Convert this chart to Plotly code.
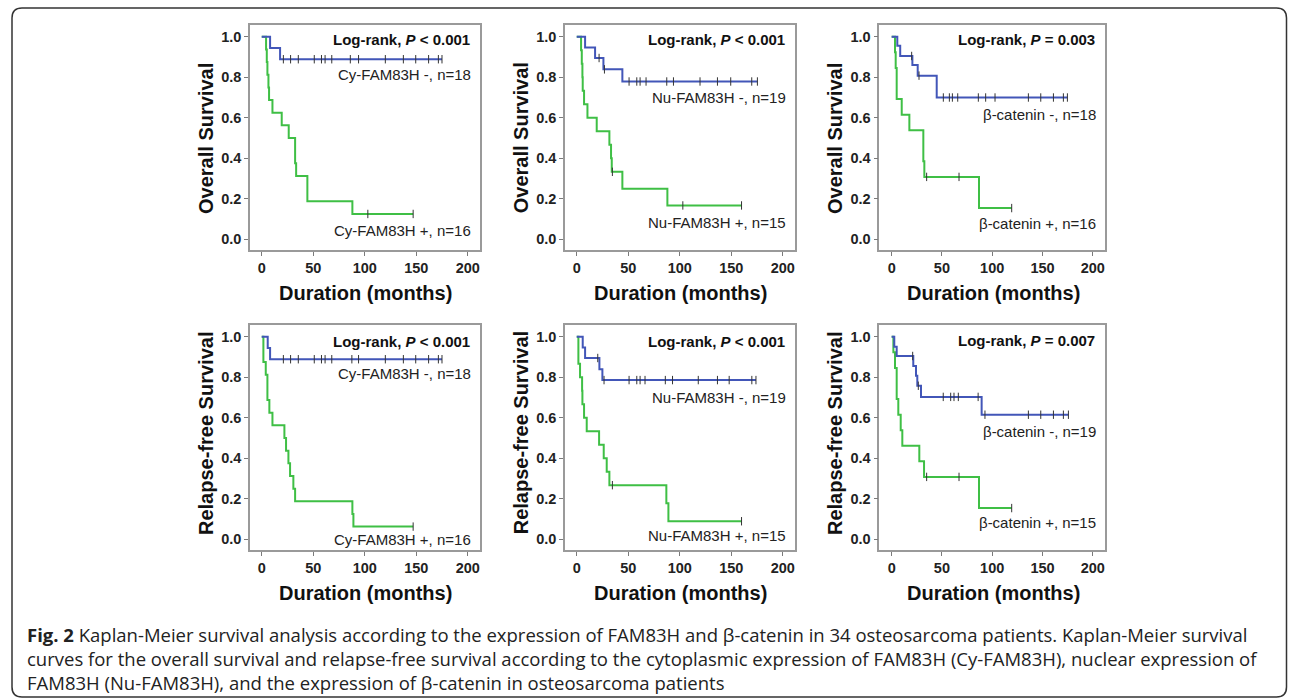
import plotly.graph_objects as go

W, H = 1290, 700

# ---------------- data ----------------
# Overall survival, Cy-FAM83H
os_cy_neg_t = [0, 8.1, 17.8]
os_cy_neg_s = [1.0, 0.944, 0.889]
os_cy_neg_c = [21, 28, 35.5, 51, 58, 61.5, 68, 86, 94, 120, 137.5, 149.5, 162, 171.5, 175]
os_cy_pos_t = [0, 4.2, 4.9, 5.5, 6.5, 7.1, 10.4, 19.4, 26.2, 32.4, 33.4, 44.3, 88]
os_cy_pos_s = [1.0, 0.9375, 0.875, 0.8125, 0.75, 0.6875, 0.625, 0.5625, 0.5, 0.375, 0.3125, 0.1875, 0.125]
os_cy_pos_c = [103, 147]

# Overall survival, Nu-FAM83H
os_nu_neg_t = [0, 8.1, 17.8, 25.9, 44.3]
os_nu_neg_s = [1.0, 0.947, 0.895, 0.839, 0.779]
os_nu_neg_c = [21.7, 26.9, 50.8, 58.3, 61.5, 67.3, 87.4, 93.9, 119.7, 136.6, 149.5, 169.9, 175.4]
os_nu_pos_t = [0, 4.2, 4.9, 5.5, 5.8, 7.1, 10.4, 19.4, 31.7, 33.3, 34.0, 44.3, 88]
os_nu_pos_s = [1.0, 0.933, 0.867, 0.8, 0.733, 0.667, 0.6, 0.533, 0.467, 0.4, 0.333, 0.25, 0.167]
os_nu_pos_c = [34.6, 103, 160]

# Overall survival, beta-catenin
os_bc_neg_t = [0, 5.6, 8.5, 20.6, 25.9, 44.8]
os_bc_neg_s = [1.0, 0.955, 0.905, 0.86, 0.808, 0.70]
os_bc_neg_c = [19.9, 27.2, 51.4, 57.4, 60.4, 65.7, 86.2, 93.5, 102.8, 136, 148.3, 160.9, 170.8, 174.8]
os_bc_pos_t = [0, 3.3, 4.0, 5.0, 10.0, 17.6, 31.5, 32.5, 86.9]
os_bc_pos_s = [1.0, 0.923, 0.846, 0.692, 0.615, 0.538, 0.385, 0.308, 0.154]
os_bc_pos_c = [34.8, 67, 119.4]

# Relapse-free survival, Cy-FAM83H
rfs_cy_neg_t = [0, 5.8, 8.1]
rfs_cy_neg_s = [1.0, 0.944, 0.889]
rfs_cy_neg_c = [21, 28, 35.5, 51, 58, 61.5, 68, 87.5, 94, 120, 137.5, 149.5, 162, 171.5, 175]
rfs_cy_pos_t = [0, 1.6, 3.9, 5.5, 7.4, 10.4, 22.0, 23.6, 25.9, 27.5, 30.7, 32.4, 88, 89]
rfs_cy_pos_s = [1.0, 0.875, 0.8125, 0.6875, 0.625, 0.5625, 0.5, 0.4375, 0.375, 0.3125, 0.25, 0.1875, 0.125, 0.0625]
rfs_cy_pos_c = [147]

# Relapse-free survival, Nu-FAM83H
rfs_nu_neg_t = [0, 5.8, 8.1, 22.0, 24.9]
rfs_nu_neg_s = [1.0, 0.947, 0.895, 0.84, 0.786]
rfs_nu_neg_c = [20.4, 26.5, 50.8, 58.3, 61.5, 66.3, 86, 93, 118, 136.6, 148, 170, 174]
rfs_nu_pos_t = [0, 1.6, 3.2, 5.2, 5.5, 7.1, 9.7, 21.7, 26.2, 29.1, 31.7, 87, 89]
rfs_nu_pos_s = [1.0, 0.867, 0.8, 0.733, 0.667, 0.6, 0.533, 0.467, 0.4, 0.333, 0.267, 0.178, 0.089]
rfs_nu_pos_c = [34.6, 160]

# Relapse-free survival, beta-catenin
rfs_bc_neg_t = [0, 2.6, 5.0, 21.5, 24.2, 25.5, 29.2, 89.5]
rfs_bc_neg_s = [1.0, 0.95, 0.905, 0.855, 0.807, 0.758, 0.703, 0.615]
rfs_bc_neg_c = [20.9, 26.5, 51.3, 58.7, 62, 66.3, 86, 92.8, 136, 148.3, 160.9, 170.8, 175.8]
rfs_bc_pos_t = [0, 1.7, 3.3, 5.0, 6.6, 9.0, 10.6, 27.5, 32.2, 86.9]
rfs_bc_pos_s = [1.0, 0.923, 0.846, 0.692, 0.615, 0.538, 0.462, 0.385, 0.308, 0.154]
rfs_bc_pos_c = [34.8, 67, 119.4]

y_titles = ["Overall Survival", "Relapse-free Survival"]
x_title = "Duration (months)"
x_ticks = [0, 50, 100, 150, 200]
y_ticks = [0.0, 0.2, 0.4, 0.6, 0.8, 1.0]
y_tick_labels = ["0.0", "0.2", "0.4", "0.6", "0.8", "1.0"]

p_texts = [["<b>Log-rank, <i>P</i> &lt; 0.001</b>", "<b>Log-rank, <i>P</i> &lt; 0.001</b>", "<b>Log-rank, <i>P</i> = 0.003</b>"],
           ["<b>Log-rank, <i>P</i> &lt; 0.001</b>", "<b>Log-rank, <i>P</i> &lt; 0.001</b>", "<b>Log-rank, <i>P</i> = 0.007</b>"]]
neg_labels = [["Cy-FAM83H -, n=18", "Nu-FAM83H -, n=19", "β-catenin -, n=18"],
              ["Cy-FAM83H -, n=18", "Nu-FAM83H -, n=19", "β-catenin -, n=19"]]
pos_labels = [["Cy-FAM83H +, n=16", "Nu-FAM83H +, n=15", "β-catenin +, n=16"],
              ["Cy-FAM83H +, n=16", "Nu-FAM83H +, n=15", "β-catenin +, n=15"]]

caption_lines = [
    "<b>Fig. 2</b> Kaplan-Meier survival analysis according to the expression of FAM83H and β-catenin in 34 osteosarcoma patients. Kaplan-Meier survival",
    "curves for the overall survival and relapse-free survival according to the cytoplasmic expression of FAM83H (Cy-FAM83H), nuclear expression of",
    "FAM83H (Nu-FAM83H), and the expression of β-catenin in osteosarcoma patients",
]

panels = [
    [(os_cy_neg_t, os_cy_neg_s, os_cy_neg_c, os_cy_pos_t, os_cy_pos_s, os_cy_pos_c),
     (os_nu_neg_t, os_nu_neg_s, os_nu_neg_c, os_nu_pos_t, os_nu_pos_s, os_nu_pos_c),
     (os_bc_neg_t, os_bc_neg_s, os_bc_neg_c, os_bc_pos_t, os_bc_pos_s, os_bc_pos_c)],
    [(rfs_cy_neg_t, rfs_cy_neg_s, rfs_cy_neg_c, rfs_cy_pos_t, rfs_cy_pos_s, rfs_cy_pos_c),
     (rfs_nu_neg_t, rfs_nu_neg_s, rfs_nu_neg_c, rfs_nu_pos_t, rfs_nu_pos_s, rfs_nu_pos_c),
     (rfs_bc_neg_t, rfs_bc_neg_s, rfs_bc_neg_c, rfs_bc_pos_t, rfs_bc_pos_s, rfs_bc_pos_c)],
]

# ---------------- layout geometry (pixels) ----------------
col_px = [(250, 480), (565, 795), (879.3, 1105)]
row_px = [(25, 250), (325, 550)]
x_ranges = [[-11.4, 211.9], [-11.4, 211.9], [-12.3, 212.2]]
y_range = [-0.053, 1.058]
# annotation y (data) positions per panel: (logrank, neg, pos)
ann_y = [[(0.984, 0.816, 0.041), (0.984, 0.70, 0.085), (0.984, 0.618, 0.08)],
         [(0.975, 0.82, -0.003), (0.975, 0.70, 0.02), (0.98, 0.534, 0.085)]]
ytitle_x_px = [206.7, 521, 835.7]
ytitle_y_px = [138.3, 433.3]
xtitle_x_px = [365, 680, 993.3]
xtitle_y_px = [293.3, 593.3]

BLUE = "#4256b8"
GREEN = "#3fbf45"
FONT = "Liberation Sans, Arial, sans-serif"


def px2x(p):
    return p / W


def px2y(p):
    return 1 - p / H


def surv_at(times, surv, t):
    v = surv[0]
    for ti, si in zip(times, surv):
        if ti <= t:
            v = si
    return v


fig = go.Figure()
layout_axes = {}
annotations = []
k = 0
for r in range(2):
    for c in range(3):
        k += 1
        xa = "x" if k == 1 else f"x{k}"
        ya = "y" if k == 1 else f"y{k}"
        neg_t, neg_s, neg_c, pos_t, pos_s, pos_c = panels[r][c]
        for (tt, ss, cc, col) in [(pos_t, pos_s, pos_c, GREEN), (neg_t, neg_s, neg_c, BLUE)]:
            end = max(cc) if cc else tt[-1]
            xs = list(tt) + [end]
            ys = list(ss) + [ss[-1]]
            fig.add_trace(go.Scatter(x=xs, y=ys, xaxis=xa, yaxis=ya, mode="lines",
                                     line=dict(color=col, width=2, shape="hv"),
                                     showlegend=False, hoverinfo="skip"))
            fig.add_trace(go.Scatter(x=cc, y=[surv_at(tt, ss, t) for t in cc], xaxis=xa, yaxis=ya,
                                     mode="markers",
                                     marker=dict(symbol="line-ns-open", size=6, color="#333333",
                                                 line=dict(color="#333333", width=1)),
                                     showlegend=False, hoverinfo="skip"))
        x0, x1 = col_px[c]
        y0, y1 = row_px[r]
        axis_common = dict(showgrid=False, zeroline=False, showline=True, mirror=True,
                           linecolor="#9a9a9a", linewidth=1.5, ticks="outside", ticklen=4,
                           tickwidth=1.2, tickcolor="#7a7a7a",
                           tickfont=dict(family=FONT, size=14.5, color="#222222", weight="bold"))
        layout_axes["xaxis" if k == 1 else f"xaxis{k}"] = dict(
            domain=[px2x(x0), px2x(x1)], range=x_ranges[c], anchor=ya,
            tickvals=x_ticks, ticktext=[str(v) for v in x_ticks], **axis_common)
        layout_axes["yaxis" if k == 1 else f"yaxis{k}"] = dict(
            domain=[px2y(y1), px2y(y0)], range=y_range, anchor=xa,
            tickvals=y_ticks, ticktext=y_tick_labels, **axis_common)
        ly, ny, py = ann_y[r][c]
        xr = 204.5
        annotations.append(dict(x=xr, y=ly, xref=xa, yref=ya, text=p_texts[r][c], showarrow=False,
                                xanchor="right", yanchor="middle",
                                font=dict(family=FONT, size=15, color="#111111")))
        annotations.append(dict(x=xr + 1, y=ny, xref=xa, yref=ya, text=neg_labels[r][c], showarrow=False,
                                xanchor="right", yanchor="middle",
                                font=dict(family=FONT, size=15, color="#222222")))
        annotations.append(dict(x=xr + 1, y=py, xref=xa, yref=ya, text=pos_labels[r][c], showarrow=False,
                                xanchor="right", yanchor="middle",
                                font=dict(family=FONT, size=15, color="#222222")))
        annotations.append(dict(x=px2x(ytitle_x_px[c]), y=px2y(ytitle_y_px[r]), xref="paper", yref="paper",
                                text=f"<b>{y_titles[r]}</b>", textangle=-90, showarrow=False,
                                xanchor="center", yanchor="middle",
                                font=dict(family=FONT, size=20, color="#111111")))
        annotations.append(dict(x=px2x(xtitle_x_px[c]), y=px2y(xtitle_y_px[r]), xref="paper", yref="paper",
                                text=f"<b>{x_title}</b>", showarrow=False,
                                xanchor="center", yanchor="middle",
                                font=dict(family=FONT, size=20, color="#111111")))

# caption as one multi-line text block
annotations.append(dict(x=px2x(25), y=px2y(658.5), xref="paper", yref="paper",
                        text="<br>".join(caption_lines), align="left",
                        showarrow=False, xanchor="left", yanchor="middle",
                        font=dict(family="Open Sans, sans-serif", size=18.5, color="#222222")))

# rounded outer frame
fl, fr, ft, fb, rad = 12, 1286.5, 8, 697, 10
path = (f"M {px2x(fl+rad)} {px2y(ft)} L {px2x(fr-rad)} {px2y(ft)} "
        f"Q {px2x(fr)} {px2y(ft)} {px2x(fr)} {px2y(ft+rad)} "
        f"L {px2x(fr)} {px2y(fb-rad)} Q {px2x(fr)} {px2y(fb)} {px2x(fr-rad)} {px2y(fb)} "
        f"L {px2x(fl+rad)} {px2y(fb)} Q {px2x(fl)} {px2y(fb)} {px2x(fl)} {px2y(fb-rad)} "
        f"L {px2x(fl)} {px2y(ft+rad)} Q {px2x(fl)} {px2y(ft)} {px2x(fl+rad)} {px2y(ft)} Z")

fig.update_layout(
    width=W, height=H, margin=dict(l=0, r=0, t=0, b=0),
    paper_bgcolor="white", plot_bgcolor="white",
    annotations=annotations,
    shapes=[dict(type="path", path=path, xref="paper", yref="paper",
                 line=dict(color="#333333", width=1.5), layer="below")],
    **layout_axes,
)

fig.write_html("out.html", config={"displayModeBar": False},
               post_script="document.body.style.margin='0';document.body.style.overflow='hidden';")
